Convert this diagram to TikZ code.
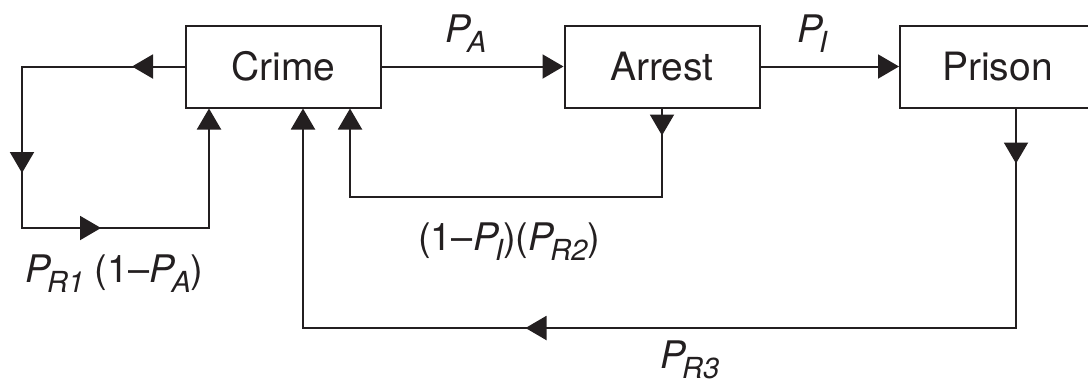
\documentclass[tikz,border=0pt]{standalone}
\usepackage{fontspec}
\setmainfont{TeX Gyre Heros}
\usetikzlibrary{arrows.meta,decorations.markings}

\definecolor{ink}{HTML}{231F20}

% italic P with a lowered, smaller italic subscript
\newcommand{\Pvar}[1]{\textit{P}\kern-4pt\raisebox{-10pt}{\fontsize{29}{30}\selectfont\itshape #1}}

\tikzset{
  tip/.tip={Triangle[length=21pt,width=24pt]},
  box/.style={draw=ink, line width=2pt, minimum width=195pt, minimum height=82pt,
    inner sep=0pt, text=ink, font=\fontsize{39}{44}\selectfont},
  conn/.style={draw=ink, line width=2pt, -{tip}},
  lbl/.style={inner sep=0pt, anchor=base west, text=ink, font=\fontsize{38}{44}\selectfont},
  midtip/.style={postaction={decorate, decoration={markings,
    mark=at position #1 with {\arrow[ink]{tip}}}}},
}

\begin{document}
\begin{tikzpicture}[x=1pt, y=-1pt]
  \clip (0,0) rectangle (1088,381);

  % states
  \node[box] (crime)  at (283.5,66.5) {Crime};
  \node[box] (arrest) at (662,66.5)   {Arrest};
  \node[box] (prison) at (997.5,66.5) {Prison};

  % bends of the feedback loops
  \coordinate (l1) at (22,66.5);
  \coordinate (l2) at (22,228);
  \coordinate (l3) at (209,228);
  \coordinate (m1) at (662,197);
  \coordinate (m2) at (350,197);
  \coordinate (r1) at (1016,328);
  \coordinate (r2) at (303,328);

  % forward transitions
  \draw[conn] (crime.east) -- (arrest.west);
  \draw[conn] (arrest.east) -- (prison.west);

  % crime repeated without arrest
  \draw[conn, midtip=53pt, midtip=269.5pt, midtip=403.5pt]
    (crime.west) -- (l1) -- (l2) -- (l3) -- (l3 |- crime.south);

  % release after arrest
  \draw[conn, midtip=27pt]
    (arrest.south) -- (m1) -- (m2) -- (m2 |- crime.south);

  % release from prison
  \draw[conn, midtip=55pt, midtip=710pt]
    (r1 |- prison.south) -- (r1) -- (r2) -- (r2 |- crime.south);

  % transition probabilities
  \node[lbl] (pa)  at (445,42)  {\Pvar{A}};
  \node[lbl] (pi)  at (797,42)  {\Pvar{I}};
  \node[lbl] (pr1) at (25,282)  {\Pvar{R1} (1--\Pvar{A})};
  \node[lbl] (pr2) at (418,250) {(1--\Pvar{I})(\Pvar{R2})};
  \node[lbl] (pr3) at (660,368) {\Pvar{R3}};
\end{tikzpicture}
\end{document}
